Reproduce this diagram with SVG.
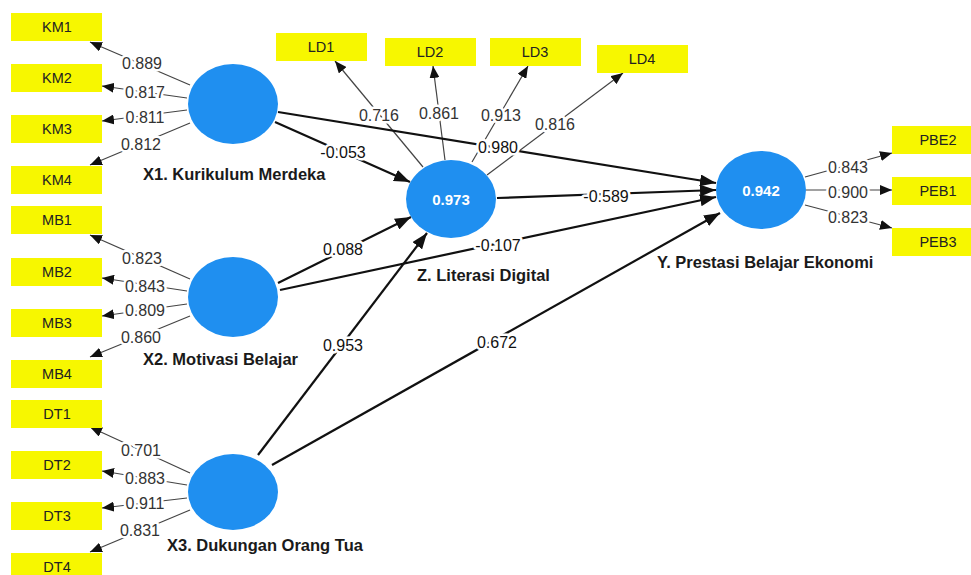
<svg xmlns="http://www.w3.org/2000/svg" width="971" height="575" viewBox="0 0 971 575">
<defs>
<style>
.box{fill:#f7f700}
.bl{font-family:"Liberation Sans",Arial,sans-serif;font-size:14.5px;fill:#222;text-anchor:middle}
.lv{fill:#1f8ff0}
.lt{font-family:"Liberation Sans",Arial,sans-serif;font-size:16.5px;font-weight:bold;fill:#1a1a1a}
.r2{font-family:"Liberation Sans",Arial,sans-serif;font-size:15px;font-weight:bold;fill:#fff;text-anchor:middle}
.ld{stroke:#444;stroke-width:1.2;fill:none;marker-end:url(#sa)}
.pt{stroke:#111;stroke-width:2.2;fill:none;marker-end:url(#la)}
.num{font-family:"Liberation Sans",Arial,sans-serif;font-size:16px;fill:#333;text-anchor:middle;stroke:#fff;stroke-width:5px;paint-order:stroke;stroke-linejoin:round}
.pn{fill:#111}
</style>
<marker id="sa" markerUnits="userSpaceOnUse" markerWidth="12" markerHeight="10" refX="12" refY="5" orient="auto" viewBox="0 0 12 10"><path d="M0,0 L12,5 L0,10 z" fill="#111"/></marker>
<marker id="la" markerUnits="userSpaceOnUse" markerWidth="16" markerHeight="12" refX="16" refY="6" orient="auto" viewBox="0 0 16 12"><path d="M0,0 L16,6 L0,12 z" fill="#111"/></marker>
</defs>
<rect width="971" height="575" fill="#fff"/>
<g id="connectors">
<line class="ld" x1="190" y1="85" x2="90" y2="42"/>
<line class="ld" x1="187" y1="98" x2="102" y2="86"/>
<line class="ld" x1="187" y1="110" x2="102" y2="121"/>
<line class="ld" x1="190" y1="123" x2="90" y2="165"/>
<line class="ld" x1="190" y1="279" x2="90" y2="235"/>
<line class="ld" x1="187" y1="291" x2="102" y2="278"/>
<line class="ld" x1="187" y1="304" x2="102" y2="316"/>
<line class="ld" x1="190" y1="316" x2="90" y2="357"/>
<line class="ld" x1="190" y1="473" x2="90" y2="427"/>
<line class="ld" x1="187" y1="485" x2="102" y2="471"/>
<line class="ld" x1="187" y1="498" x2="102" y2="508"/>
<line class="ld" x1="190" y1="510" x2="90" y2="552"/>
<line class="ld" x1="423" y1="167" x2="335" y2="61"/>
<line class="ld" x1="445" y1="160" x2="433" y2="66"/>
<line class="ld" x1="472" y1="162" x2="528" y2="66"/>
<line class="ld" x1="487" y1="175" x2="623" y2="73"/>
<line class="ld" x1="805" y1="177" x2="892" y2="153"/>
<line class="ld" x1="806" y1="190" x2="892" y2="190"/>
<line class="ld" x1="805" y1="205" x2="892" y2="228"/>
<line class="pt" x1="278" y1="112" x2="716" y2="183"/>
<line class="pt" x1="275" y1="122" x2="410" y2="182"/>
<line class="pt" x1="497" y1="198" x2="716" y2="190"/>
<line class="pt" x1="278" y1="283" x2="411" y2="217"/>
<line class="pt" x1="280" y1="290" x2="716" y2="197"/>
<line class="pt" x1="258" y1="455" x2="427" y2="233"/>
<line class="pt" x1="272" y1="465" x2="720" y2="213"/>
<text class="num" x="142" y="69">0.889</text>
<text class="num" x="145" y="98">0.817</text>
<text class="num" x="145" y="123">0.811</text>
<text class="num" x="141" y="150">0.812</text>
<text class="num" x="142" y="264">0.823</text>
<text class="num" x="145" y="292">0.843</text>
<text class="num" x="145" y="316">0.809</text>
<text class="num" x="141" y="343">0.860</text>
<text class="num" x="141" y="456">0.701</text>
<text class="num" x="145" y="484">0.883</text>
<text class="num" x="145" y="509">0.911</text>
<text class="num" x="140" y="536">0.831</text>
<text class="num" x="379" y="121">0.716</text>
<text class="num" x="439" y="119">0.861</text>
<text class="num" x="501" y="121">0.913</text>
<text class="num" x="555" y="130">0.816</text>
<text class="num" x="848" y="173">0.843</text>
<text class="num" x="848" y="198">0.900</text>
<text class="num" x="848" y="223">0.823</text>
<text class="num pn" x="498" y="153">0.980</text>
<text class="num pn" x="343" y="158">-0.053</text>
<text class="num pn" x="606" y="202">-0.589</text>
<text class="num pn" x="343" y="255">0.088</text>
<text class="num pn" x="498" y="251">-0.107</text>
<text class="num pn" x="343" y="351">0.953</text>
<text class="num pn" x="497" y="348">0.672</text>
</g>
<g id="KM1"><rect class="box" x="11" y="13" width="91" height="28"/><text class="bl" x="57" y="32">KM1</text></g>
<g id="KM2"><rect class="box" x="11" y="64" width="91" height="28"/><text class="bl" x="57" y="83">KM2</text></g>
<g id="KM3"><rect class="box" x="11" y="115" width="91" height="28"/><text class="bl" x="57" y="134">KM3</text></g>
<g id="KM4"><rect class="box" x="11" y="166" width="91" height="28"/><text class="bl" x="57" y="185">KM4</text></g>
<g id="MB1"><rect class="box" x="11" y="206" width="91" height="28"/><text class="bl" x="57" y="225">MB1</text></g>
<g id="MB2"><rect class="box" x="11" y="258" width="91" height="28"/><text class="bl" x="57" y="277">MB2</text></g>
<g id="MB3"><rect class="box" x="11" y="309" width="91" height="28"/><text class="bl" x="57" y="328">MB3</text></g>
<g id="MB4"><rect class="box" x="11" y="360" width="91" height="28"/><text class="bl" x="57" y="379">MB4</text></g>
<g id="DT1"><rect class="box" x="11" y="400" width="91" height="28"/><text class="bl" x="57" y="419">DT1</text></g>
<g id="DT2"><rect class="box" x="11" y="451" width="91" height="28"/><text class="bl" x="57" y="470">DT2</text></g>
<g id="DT3"><rect class="box" x="11" y="502" width="91" height="28"/><text class="bl" x="57" y="521">DT3</text></g>
<g id="DT4"><rect class="box" x="11" y="553" width="91" height="28"/><text class="bl" x="57" y="572">DT4</text></g>
<g id="LD1"><rect class="box" x="276" y="33" width="91" height="28"/><text class="bl" x="321" y="52">LD1</text></g>
<g id="LD2"><rect class="box" x="385" y="38" width="91" height="28"/><text class="bl" x="430" y="57">LD2</text></g>
<g id="LD3"><rect class="box" x="490" y="38" width="91" height="28"/><text class="bl" x="535" y="57">LD3</text></g>
<g id="LD4"><rect class="box" x="597" y="45" width="91" height="28"/><text class="bl" x="642" y="64">LD4</text></g>
<g id="PBE2"><rect class="box" x="892" y="126" width="91" height="28"/><text class="bl" x="938" y="145">PBE2</text></g>
<g id="PEB1"><rect class="box" x="892" y="177" width="91" height="28"/><text class="bl" x="938" y="196">PEB1</text></g>
<g id="PEB3"><rect class="box" x="892" y="228" width="91" height="28"/><text class="bl" x="938" y="247">PEB3</text></g>
<g id="X1"><ellipse class="lv" cx="233" cy="104" rx="45" ry="40"/><text class="lt" x="143" y="180">X1. Kurikulum Merdeka</text></g>
<g id="X2"><ellipse class="lv" cx="233" cy="297" rx="45" ry="40"/><text class="lt" x="143" y="365">X2. Motivasi Belajar</text></g>
<g id="X3"><ellipse class="lv" cx="233" cy="492" rx="45" ry="38"/><text class="lt" x="167" y="551">X3. Dukungan Orang Tua</text></g>
<g id="Z"><ellipse class="lv" cx="451" cy="199" rx="45" ry="39"/><text class="r2" x="451" y="205">0.973</text><text class="lt" x="417" y="281">Z. Literasi Digital</text></g>
<g id="Y"><ellipse class="lv" cx="761" cy="190" rx="45" ry="39"/><text class="r2" x="761" y="196">0.942</text><text class="lt" x="657" y="268">Y. Prestasi Belajar Ekonomi</text></g>
</svg>
